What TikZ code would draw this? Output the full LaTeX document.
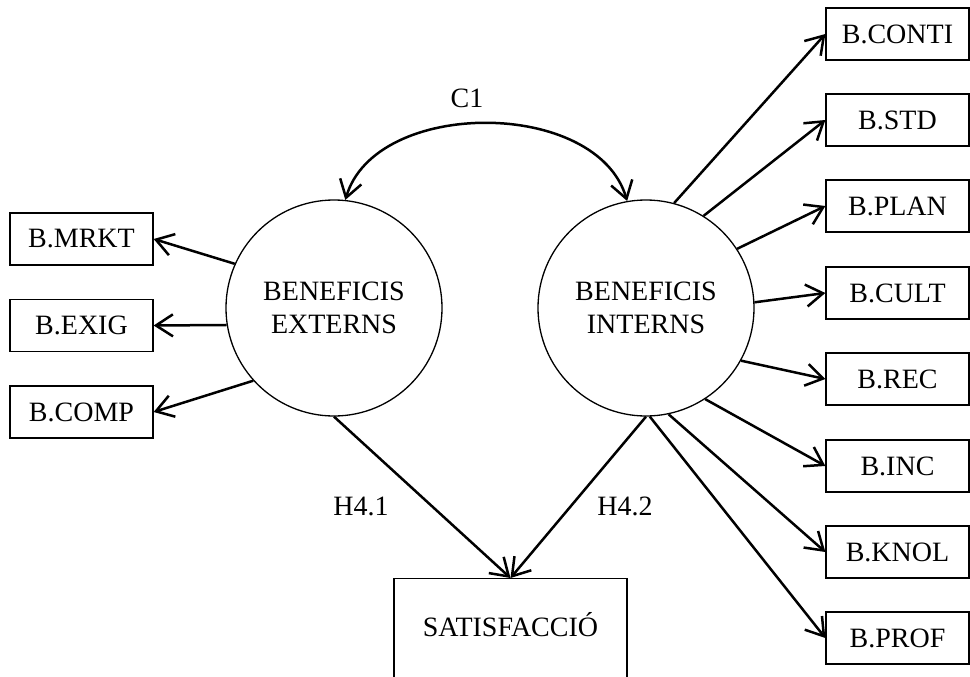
\documentclass[tikz,border=0pt]{standalone}
\usepackage{fontspec}
\setmainfont{Liberation Serif}
\usetikzlibrary{arrows.meta}
\begin{document}
\begin{tikzpicture}[x=1pt,y=-1pt,
  font=\fontsize{28}{33}\selectfont,
  obsbox/.style={draw, line width=1.3pt, minimum width=143pt, minimum height=52pt, inner sep=0pt},
  latent/.style={draw, circle, line width=1.3pt, minimum size=216pt, inner sep=0pt, align=center},
  satbox/.style={draw, line width=1.3pt, minimum width=233pt, minimum height=140pt, inner sep=0pt},
  tipV/.tip={Straight Barb[length=17pt,width=22pt]},
  conn/.style={line width=2.5pt, -tipV},
  lbl/.style={inner sep=0pt}]
\useasboundingbox (0,0) rectangle (970,677);

% latent variables
\node[latent] (lc) at (334,308) {BENEFICIS\\EXTERNS};
\node[latent] (rc) at (646,308) {BENEFICIS\\INTERNS};

% left indicators
\node[obsbox] (mrkt) at (81.5,239) {B.MRKT};
\node[obsbox] (exig) at (81.5,325.5) {B.EXIG};
\node[obsbox] (comp) at (81.5,412) {B.COMP};

% right indicators
\node[obsbox] (conti) at (897.5,34) {B.CONTI};
\node[obsbox] (std) at (897.5,120) {B.STD};
\node[obsbox] (plan) at (897.5,206) {B.PLAN};
\node[obsbox] (cult) at (897.5,293) {B.CULT};
\node[obsbox] (rec) at (897.5,379) {B.REC};
\node[obsbox] (inc) at (897.5,466) {B.INC};
\node[obsbox] (knol) at (897.5,552) {B.KNOL};
\node[obsbox] (prof) at (897.5,638) {B.PROF};

% outcome
\node[satbox, anchor=north] (sat) at (510.5,578) {};
\node[lbl] (sattxt) at (510.5,625) {SATISFACCIÓ};

% labels
\node[lbl] (c1) at (467,98) {C1};
\node[lbl] (h41) at (361,506) {H4.1};
\node[lbl] (h42) at (625,506) {H4.2};

% connectors left
\draw[conn] (lc.156.7) -- (mrkt.east);
\draw[conn] (lc.189.5) -- (exig.east);
\draw[conn] (lc.222) -- (comp.east);

% connectors right
\draw[conn] (rc.75.7) -- (conti.west);
\draw[conn] (rc.58.5) -- (std.west);
\draw[conn] (rc.33.8) -- (plan.west);
\draw[conn] (rc.3.7) -- (cult.west);
\draw[conn] (rc.331.3) -- (rec.west);
\draw[conn] (rc.303.2) -- (inc.west);
\draw[conn] (rc.282.9) -- (knol.west);
\draw[conn] (rc.272) -- (prof.west);

% structural paths
\draw[conn] (lc.south) -- (sat.north);
\draw[conn] (rc.south) -- (sat.north);

% covariance
\draw[line width=2.5pt, tipV-tipV] (lc.84) .. controls (375,98) and (597,98) .. (rc.100);
\end{tikzpicture}
\end{document}
